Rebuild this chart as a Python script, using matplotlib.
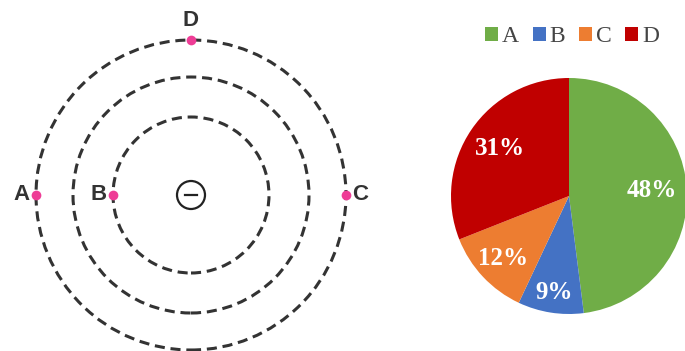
import numpy as np
import matplotlib
matplotlib.use('Agg')
import matplotlib.pyplot as plt
from matplotlib.patches import Circle

# ring diagram data (pixel units)
ring_radii = [78, 118, 155]
point_names = ['A', 'B', 'C', 'D']
point_ring = [2, 0, 2, 2]          # index into ring_radii
point_angle = [180, 180, 0, 90]    # degrees

# pie data
pie_labels = ['A', 'B', 'C', 'D']
pie_values = [48, 9, 12, 31]
pie_colors = ['#70AD47', '#4472C4', '#ED7D31', '#C00000']
label_dist = [0.70, 0.83, 0.77, 0.71]

W, H = 685, 351
fig = plt.figure(figsize=(W / 100, H / 100), dpi=100)
ax = fig.add_axes([0, 0, 1, 1])

# --- left: rings ---
cx, cy = 191, H - 195
for r in ring_radii:
    ax.add_patch(Circle((cx, cy), r, fill=False, ec='#333333', lw=2.2,
                        linestyle=(0, (3.3, 1.9))))
ax.add_patch(Circle((cx, cy), 14, fill=False, ec='#222222', lw=1.6))
ax.plot([cx - 6, cx + 6], [cy, cy], color='#222222', lw=1.6)

lab_kw = dict(fontsize=16, fontweight='bold', color='#333333', family='Liberation Sans')
for name, ri, ang in zip(point_names, point_ring, point_angle):
    r = ring_radii[ri]
    px = cx + r * np.cos(np.radians(ang))
    py = cy + r * np.sin(np.radians(ang))
    ax.plot(px, py, 'o', color='#EE3D96', ms=7, mec='none', zorder=5)
    if ang == 90:
        ax.text(px, py + 9, name, ha='center', va='bottom', **lab_kw)
    elif ang == 180:
        ax.text(px - 6, py, name, ha='right', va='center', **lab_kw)
    else:
        ax.text(px + 6, py, name, ha='left', va='center', **lab_kw)

# --- right: pie ---
pc = (569, H - 196)
pr = 118
wedges, _ = ax.pie(pie_values, colors=pie_colors, startangle=90,
                   counterclock=False, center=pc, radius=pr,
                   wedgeprops=dict(linewidth=0), frame=True)
ax.set_xlim(0, W)
ax.set_ylim(0, H)
ax.set_aspect('equal')
ax.axis('off')

total = sum(pie_values)
start = 90.0
for v, d in zip(pie_values, label_dist):
    span = 360.0 * v / total
    mid = np.radians(start - span / 2)
    start -= span
    ax.text(pc[0] + d * pr * np.cos(mid), pc[1] + d * pr * np.sin(mid),
            '%d%%' % v, ha='center', va='center', color='white',
            fontsize=18, fontweight='bold', family='Liberation Serif')

fig.legend(wedges, pie_labels, loc='center', bbox_to_anchor=(572 / W, 1 - 37 / H),
           ncol=4, frameon=False, handlelength=0.55, handleheight=0.55,
           handletextpad=0.15, columnspacing=0.6,
           prop={'family': 'Liberation Serif', 'size': 17}, labelcolor='#454545')

fig.savefig('out.png', dpi=100)
